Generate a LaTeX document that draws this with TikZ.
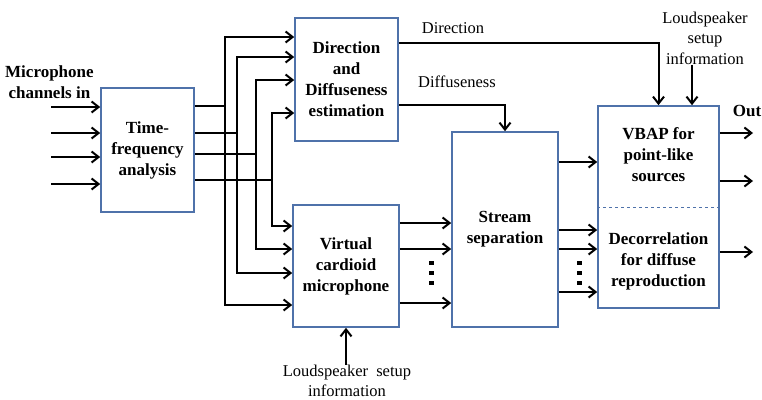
\documentclass[tikz,border=0pt]{standalone}
\usepackage{fontspec}
\setmainfont{Liberation Serif}
\usetikzlibrary{arrows.meta}
\definecolor{boxblue}{RGB}{79,114,170}
\begin{document}
\begin{tikzpicture}[x=1pt,y=-1pt,
 blk/.style={draw=boxblue,line width=1.6pt,fill=white,inner sep=0pt,font=\fontsize{17}{21}\selectfont\bfseries,align=center},
 arr/.style={line width=2pt,-{Straight Barb[length=7pt,width=11pt,line width=2pt]}},
 ln/.style={line width=2pt},
 lbl/.style={font=\fontsize{16.5}{20.5}\selectfont,align=center,inner sep=0pt},
 blbl/.style={font=\fontsize{17}{21}\selectfont\bfseries,align=center,inner sep=0pt},
 dotsq/.style={fill=black},
]
\useasboundingbox[fill=white] (0,0) rectangle (762,399);

% blocks
\node[blk,minimum width=93pt,minimum height=124pt] (tf) at (147.5,150) {Time-\\frequency\\analysis};
\node[blk,minimum width=103pt,minimum height=123pt] (dd) at (346.5,79.5) {Direction\\and\\Diffuseness\\estimation};
\node[blk,minimum width=106pt,minimum height=122pt] (vcm) at (346,266) {Virtual\\cardioid\\microphone};
\node[blk,minimum width=106pt,minimum height=195pt] (ss) at (505,229.5) {Stream\\separation};
\node[blk,minimum width=121pt,minimum height=202pt] (vb) at (658.5,207) {};
\node[blbl] (vbtop) at (658.5,155) {VBAP for\\point-like\\sources};
\node[blbl] (vbbot) at (658.5,261) {Decorrelation\\for diffuse\\reproduction};
\draw[boxblue,line width=1pt,dashed] (vb.west |- 0,207) -- (vb.east |- 0,207);

% labels
\node[blbl,anchor=west] (mic) at (5,82) {Microphone\\channels in};
\node[lbl] (dirl) at (453,28) {Direction};
\node[lbl] (difl) at (457,82) {Diffuseness};
\node[lbl] (lstop) at (705,38) {Loudspeaker\\setup\\information};
\node[lbl] (lsbot) at (347,381) {Loudspeaker\ \ setup\\information};
\node[blbl] (out) at (747,111) {Out};

% inputs
\foreach \y in {107,133,157,184} \draw[arr] (51,\y) -- (tf.west |- 0,\y);

% TF outputs to DD and VCM
\coordinate (t1) at (225,37);  \coordinate (b1) at (225,305);
\coordinate (t2) at (237,57);  \coordinate (b2) at (237,273);
\coordinate (t3) at (256,80);  \coordinate (b3) at (256,249);
\coordinate (t4) at (272,113); \coordinate (b4) at (272,226);
\draw[ln] (tf.east |- 0,106) -- (225,106);
\draw[ln] (tf.east |- 0,133) -- (237,133);
\draw[ln] (tf.east |- 0,154) -- (256,154);
\draw[ln] (tf.east |- 0,180) -- (272,180);
\draw[arr] (b1) |- (t1) -- (dd.west |- t1);
\draw[arr] (b2) |- (t2) -- (dd.west |- t2);
\draw[arr] (b3) |- (t3) -- (dd.west |- t3);
\draw[arr] (b4) |- (t4) -- (dd.west |- t4);
\draw[arr] (t1) |- (b1) -- (vcm.west |- b1);
\draw[arr] (t2) |- (b2) -- (vcm.west |- b2);
\draw[arr] (t3) |- (b3) -- (vcm.west |- b3);
\draw[arr] (t4) |- (b4) -- (vcm.west |- b4);

% VCM to SS
\foreach \y in {223,249,303} \draw[arr] (vcm.east |- 0,\y) -- (ss.west |- 0,\y);
\foreach \y in {263,273,283} \fill[dotsq] (429,\y-2) rectangle (434,\y+2);

% SS to VB
\foreach \y in {162,230,249,292} \draw[arr] (ss.east |- 0,\y) -- (vb.west |- 0,\y);
\foreach \y in {263,273,283} \fill[dotsq] (577,\y-2) rectangle (582,\y+2);

% VB outputs
\foreach \y in {133,181,252} \draw[arr] (vb.east |- 0,\y) -- (753,\y);

% Direction & Diffuseness
\draw[arr] (dd.east |- 0,43) -| (vb.north);
\draw[arr] (dd.east |- 0,105) -| (ss.north);

% Loudspeaker info
\draw[arr] (lstop.south -| 692,0) -- (vb.north -| 692,0);
\draw[arr] (lsbot.north -| vcm.south) -- (vcm.south);
\end{tikzpicture}
\end{document}
